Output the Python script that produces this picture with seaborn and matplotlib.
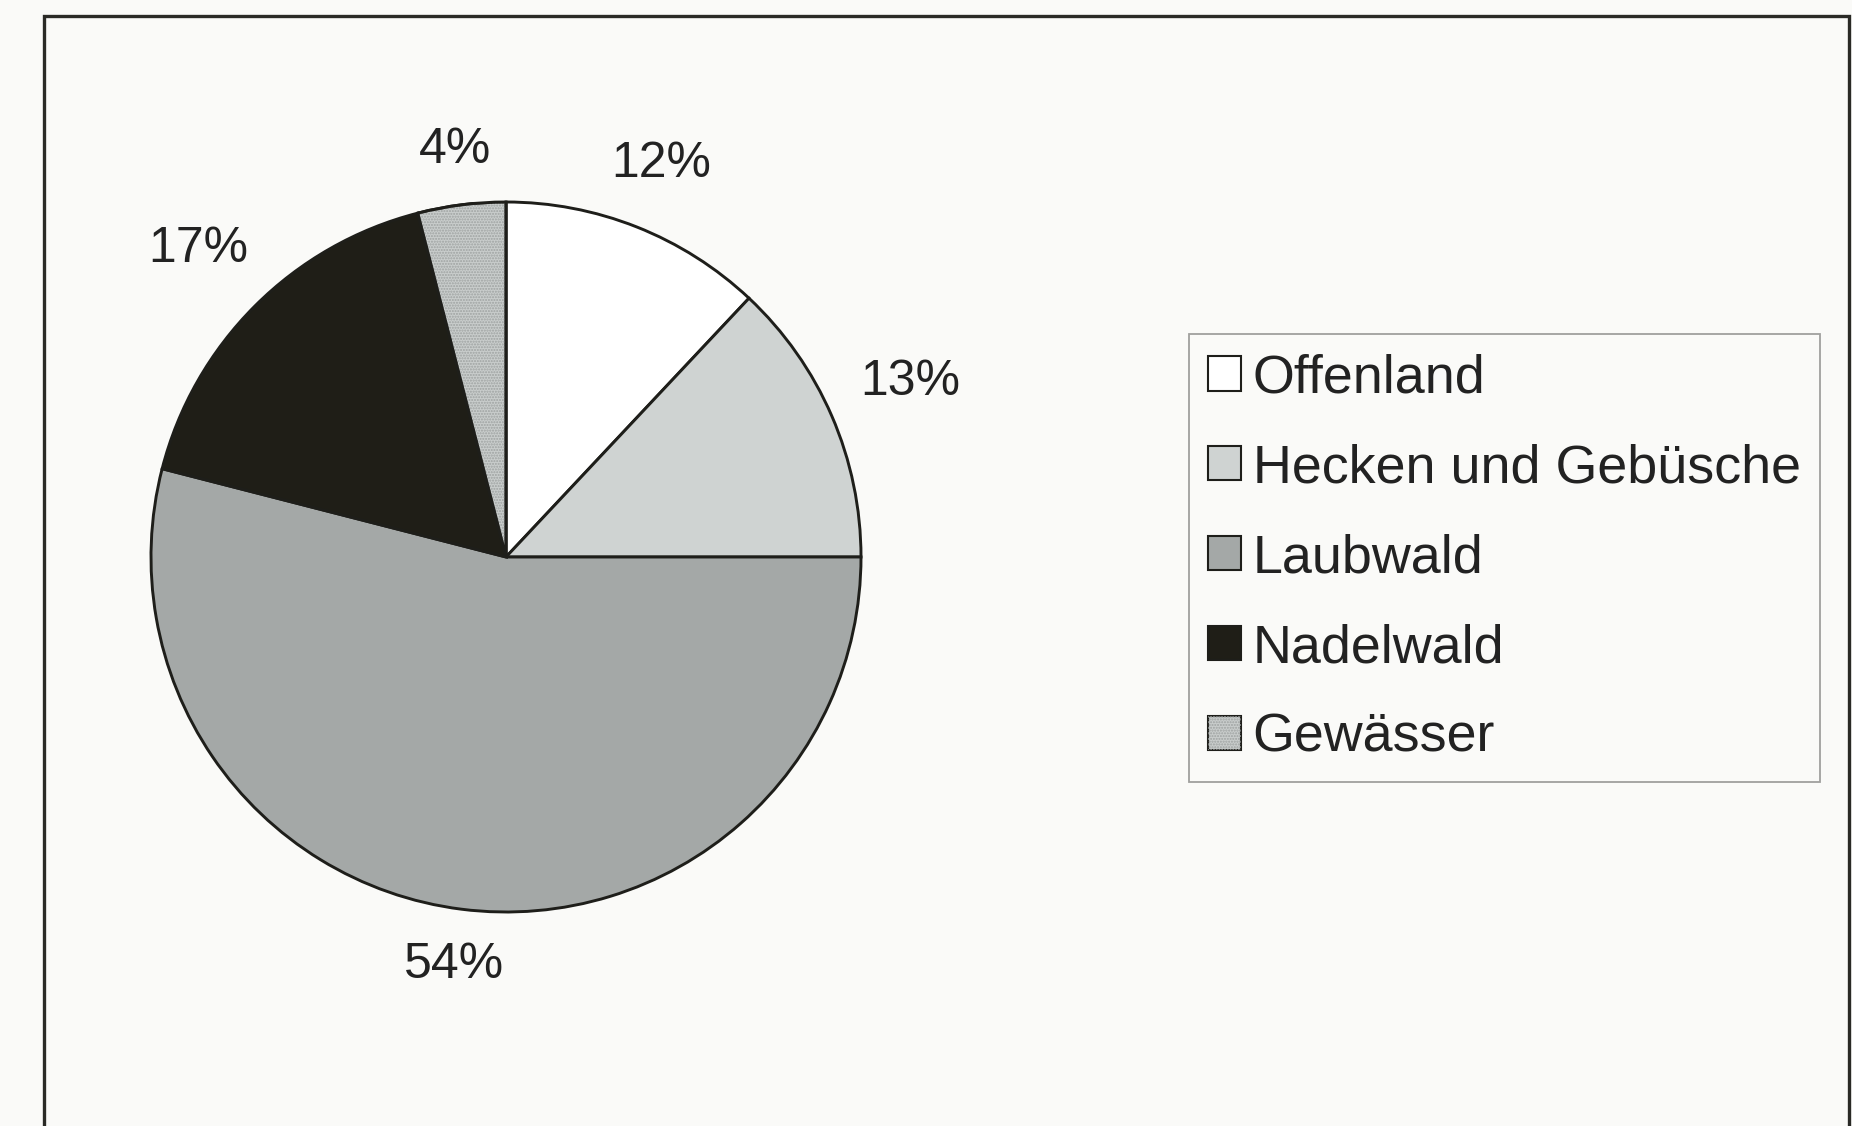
import matplotlib
matplotlib.use("Agg")
import numpy as np
import matplotlib.pyplot as plt
from matplotlib.patches import Wedge, Rectangle
from matplotlib.legend_handler import HandlerTuple
import seaborn as sns

# Flächenanteile der Nutzungstypen (%)
categories = ["Offenland", "Hecken und Gebüsche", "Laubwald", "Nadelwald", "Gewässer"]
shares = [12, 13, 54, 17, 4]
fill_colors = ["#ffffff", "#cfd3d2", "#a4a8a7", "#1f1e17", "#c9cdcc"]

sns.set_theme(style="white")
plt.rcParams["font.family"] = ["Liberation Sans", "DejaVu Sans"]
plt.rcParams["hatch.linewidth"] = 1.0

W, H = 1852, 1126
bg = "#fafaf8"
ink = "#1e1e1a"
fig = plt.figure(figsize=(W / 100, H / 100), dpi=100, facecolor=bg)

# outer frame (runs past the lower edge of the figure)
fig.patches.append(Rectangle((44 / W, -0.02), (1849 - 44) / W, 1 - 16 / H + 0.02,
                             transform=fig.transFigure, fill=False,
                             edgecolor="#2a2a26", linewidth=2.4, zorder=0))

cx, cy, r = 506, 557, 355
ax = fig.add_axes([(cx - r) / W, (H - cy - r) / H, 2 * r / W, 2 * r / H])
ax.set_facecolor("none")

wedges, _, autotexts = ax.pie(
    shares,
    colors=fill_colors,
    startangle=90,
    counterclock=False,
    radius=1.0,
    autopct=lambda p: f"{round(p)}%",
    pctdistance=1.2,
    wedgeprops=dict(edgecolor=ink, linewidth=2.1),
    textprops=dict(fontsize=36, color="#222222"),
)
ax.set_xlim(-1, 1)
ax.set_ylim(-1, 1)
ax.set_aspect("equal")
ax.axis("off")

# fine dot raster on the water slice
gw = wedges[-1]
dots = Wedge(gw.center, gw.r, gw.theta1, gw.theta2, facecolor="none",
             edgecolor="#9ea2a1", linewidth=0, hatch="......", zorder=gw.get_zorder() + 0.1)
ax.add_patch(dots)
outline = Wedge(gw.center, gw.r, gw.theta1, gw.theta2, facecolor="none",
                edgecolor=ink, linewidth=2.1, zorder=gw.get_zorder() + 0.2)
ax.add_patch(outline)

# percentage labels: keep a constant gap between the rim and the label box
fig.canvas.draw()
renderer = fig.canvas.get_renderer()
px_per_unit = ax.transData.transform((1, 0))[0] - ax.transData.transform((0, 0))[0]
gap = 0.09
for w, t in zip(wedges, autotexts):
    mid = np.deg2rad(0.5 * (w.theta1 + w.theta2))
    ux, uy = np.cos(mid), np.sin(mid)
    bb = t.get_window_extent(renderer)
    hw = 0.5 * bb.width / px_per_unit
    hh = 0.5 * bb.height / px_per_unit * 0.8
    d = 1 + gap + hw * abs(ux) + hh * abs(uy)
    t.set_position((d * ux, d * uy))
    t.set_ha("center")
    t.set_va("center")

handles = [w for w in wedges[:-1]] + [(gw, dots)]
leg = fig.legend(
    handles, categories,
    loc="upper left",
    bbox_to_anchor=(1189 / W, 1 - 334 / H),
    frameon=True, fancybox=False, shadow=False,
    fontsize=38.8, handlelength=0.6, handleheight=0.6,
    handletextpad=0.22, labelspacing=0.74, borderpad=0.36,
    borderaxespad=0, edgecolor="#8a8a88",
    handler_map={tuple: HandlerTuple(ndivide=1)},
)
leg.get_frame().set_linewidth(1.3)
leg.get_frame().set_facecolor(bg)
for t in leg.get_texts():
    t.set_color("#222222")
for h in leg.legend_handles:
    if hasattr(h, "set_linewidth"):
        h.set_linewidth(1.5)

fig.savefig("out.png", dpi=100, facecolor=bg)
